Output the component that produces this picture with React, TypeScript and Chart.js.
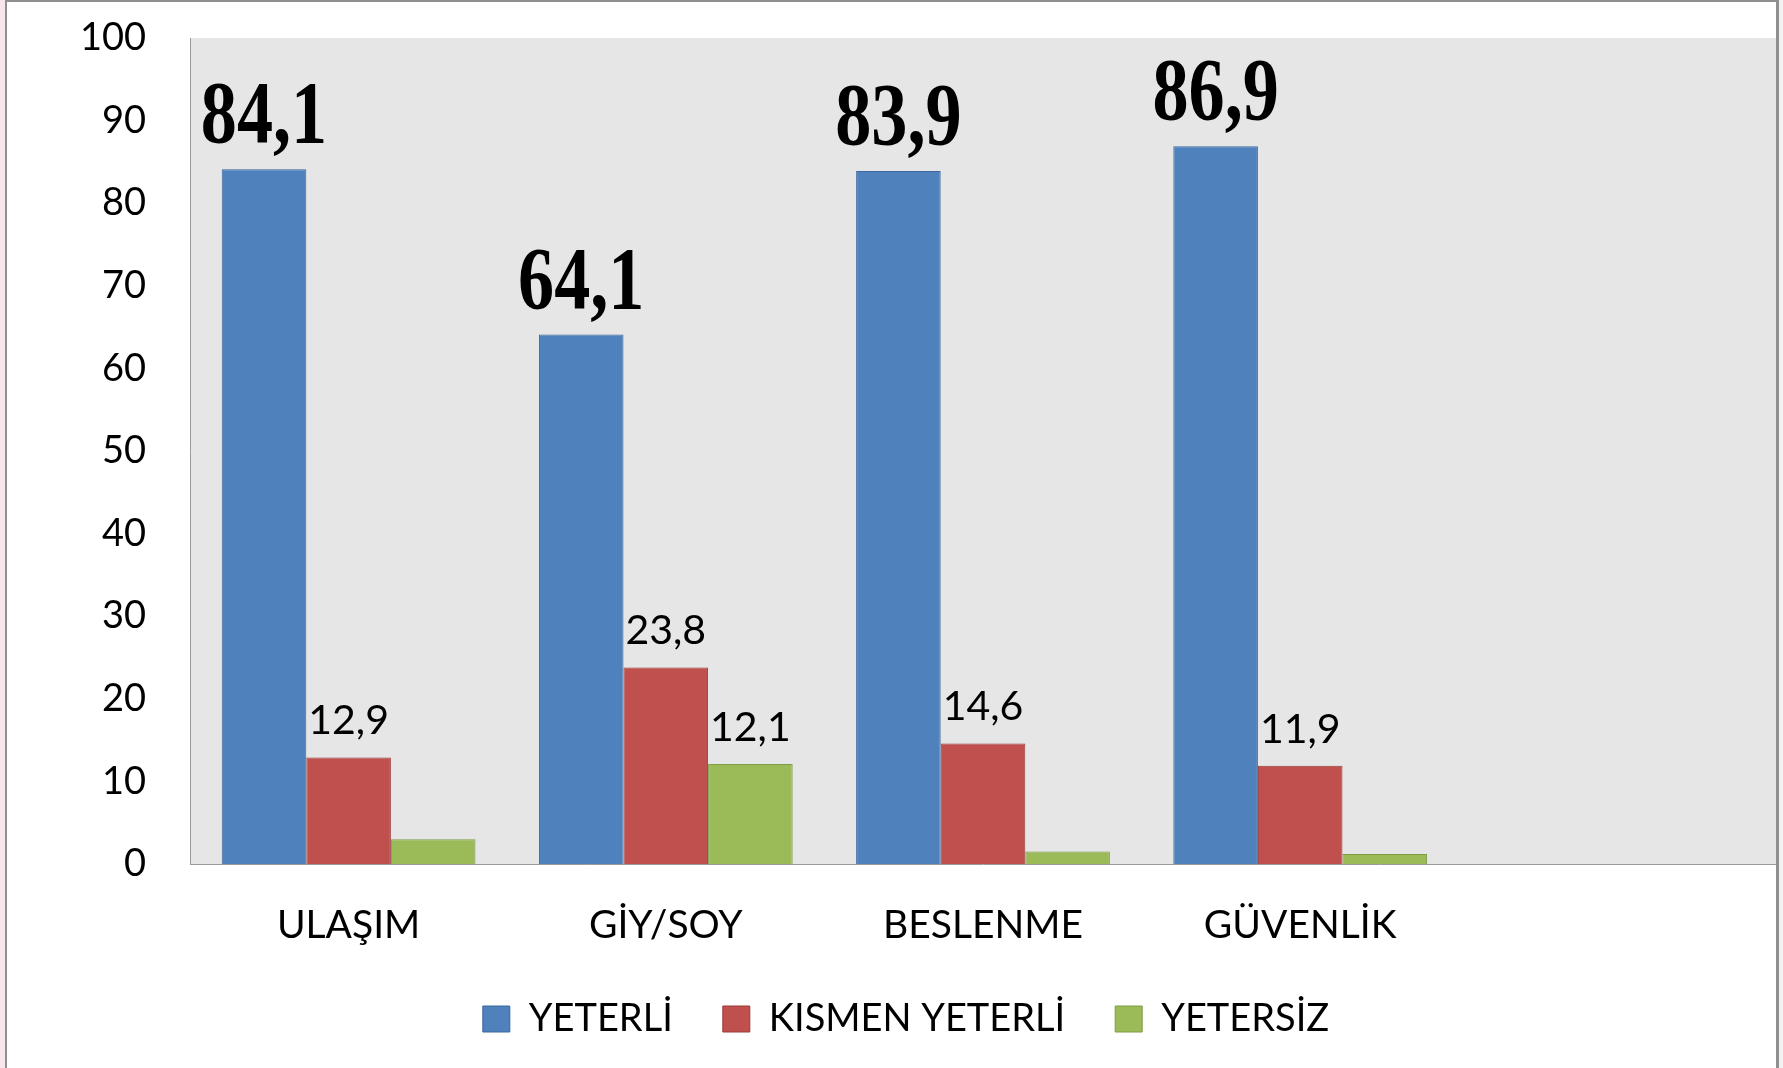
import React, { useEffect, useRef } from "react";
import { Chart, registerables } from "chart.js";

Chart.register(...registerables);

const categories = ["ULAŞIM", "GİY/SOY", "BESLENME", "GÜVENLİK", ""];
const seriesNames = ["YETERLİ", "KISMEN YETERLİ", "YETERSİZ"];
const yeterli = [84.1, 64.1, 83.9, 86.9, null];
const kismenYeterli = [12.9, 23.8, 14.6, 11.9, null];
const yetersiz = [3.0, 12.1, 1.5, 1.2, null];
const yetersizLabelShown = [false, true, false, false, false];

const fillColors = ["#4F81BD", "#C0504D", "#9BBB59"];
const edgeColors = ["#3A679C", "#9B3B39", "#7E9C46"];

const fmt = (v: number) => v.toFixed(1).replace(".", ",");

const framePlugin = {
  id: "frame",
  beforeDraw(chart: any) {
    const { ctx, width, height, chartArea } = chart;
    ctx.save();
    ctx.fillStyle = "#ffffff";
    ctx.fillRect(0, 0, width, height);
    ctx.fillStyle = "#E6E6E6";
    ctx.fillRect(chartArea.left, chartArea.top, chartArea.right - chartArea.left, chartArea.bottom - chartArea.top);
    ctx.fillStyle = "#F8E6EF";
    ctx.fillRect(0, 0, 5, height);
    ctx.fillStyle = "#8f8f8f";
    ctx.fillRect(5, 0, 2, height);
    ctx.fillRect(5, 0, 1774, 2);
    ctx.fillRect(1776, 0, 3, height);
    ctx.fillStyle = "#f2f2f2";
    ctx.fillRect(1779, 0, 4, height);
    ctx.restore();
  },
};

const labelPlugin = {
  id: "valueLabels",
  afterDatasetsDraw(chart: any) {
    const { ctx } = chart;
    ctx.save();
    ctx.fillStyle = "#000000";
    ctx.textAlign = "center";
    ctx.textBaseline = "alphabetic";
    chart.data.datasets.forEach((ds: any, di: number) => {
      const meta = chart.getDatasetMeta(di);
      meta.data.forEach((bar: any, i: number) => {
        const v = ds.data[i];
        if (v === null || v === undefined) return;
        if (di === 2 && !yetersizLabelShown[i]) return;
        const text = fmt(v);
        if (di === 0) {
          ctx.save();
          ctx.font = 'bold 88px "Liberation Serif", "Times New Roman", serif';
          ctx.translate(bar.x, bar.y - 27);
          ctx.scale(0.82, 1);
          ctx.fillText(text, 0, 0);
          ctx.restore();
        } else {
          ctx.font = '41px Lato, "Open Sans", sans-serif';
          ctx.fillText(text, bar.x, bar.y - 23);
        }
      });
    });
    ctx.restore();
  },
};

export default function App() {
  const canvasRef = useRef<HTMLCanvasElement | null>(null);

  useEffect(() => {
    if (!canvasRef.current) return;
    Chart.defaults.font.family = 'Lato, "Open Sans", sans-serif';
    const datasets = [yeterli, kismenYeterli, yetersiz].map((d, i) => ({
      label: seriesNames[i],
      data: d,
      backgroundColor: fillColors[i],
      borderColor: edgeColors[i],
      borderWidth: 1,
      categoryPercentage: 0.8,
      barPercentage: 1.0,
    }));
    const chart = new Chart(canvasRef.current, {
      type: "bar",
      data: { labels: categories, datasets },
      options: {
        animation: false,
        responsive: true,
        maintainAspectRatio: false,
        layout: { padding: { top: 38, right: 7, bottom: 20, left: 36 } },
        plugins: {
          legend: {
            position: "bottom",
            labels: {
              color: "#000000",
              font: { size: 38 },
              boxWidth: 27,
              boxHeight: 26,
              padding: 50,
            },
          },
          tooltip: { enabled: false },
        },
        scales: {
          x: {
            grid: { display: false, drawTicks: false },
            border: { display: true, color: "#9a9a9a", width: 1 },
            ticks: {
              color: "#000000",
              font: { size: 39 },
              padding: 38,
              autoSkip: false,
              maxRotation: 0,
            },
            afterFit: (s: any) => {
              s.height = 86;
              s.paddingLeft = 0;
              s.paddingRight = 0;
            },
          },
          y: {
            min: 0,
            max: 100,
            grid: { display: false, drawTicks: false },
            border: { display: true, color: "#9a9a9a", width: 1 },
            ticks: {
              stepSize: 10,
              color: "#000000",
              font: { size: 38 },
              padding: 44,
            },
            afterFit: (s: any) => {
              s.width = 154;
              s.paddingTop = 0;
              s.paddingBottom = 0;
            },
          },
        },
      },
      plugins: [framePlugin, labelPlugin],
    });
    return () => chart.destroy();
  }, []);

  return (
    <div style={{ position: "absolute", left: 0, top: 0, width: 1783, height: 1068 }}>
      <canvas ref={canvasRef} />
    </div>
  );
}
